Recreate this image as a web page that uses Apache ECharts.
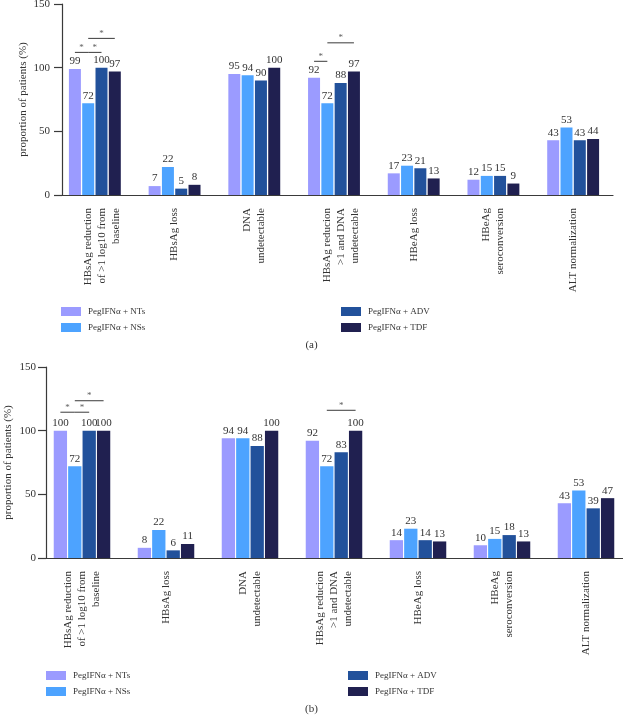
<!DOCTYPE html>
<html>
<head>
<meta charset="utf-8">
<script src="https://cdn.jsdelivr.net/npm/echarts@6/dist/echarts.min.js"></script>
<style>
html,body{margin:0;padding:0;background:#fff;}
#c{width:623px;height:716px;}
</style>
</head>
<body>
<div id="c"></div>
<script>
// ---------- data ----------
const categories = [
  "HBsAg reduction\nof >1 log10 from\nbaseline",
  "HBsAg loss",
  "DNA\nundetectable",
  "HBsAg reducion\n>1 and DNA\nundetectable",
  "HBeAg loss",
  "HBeAg\nseroconversion",
  "ALT normalization"
];
const seriesNames = ["PegIFNα + NTs", "PegIFNα + NSs", "PegIFNα + ADV", "PegIFNα + TDF"];
const yTicks = [0, 50, 100, 150];

// chart (a)
const aNTs = [99, 7, 95, 92, 17, 12, 43];
const aNSs = [72, 22, 94, 72, 23, 15, 53];
const aADV = [100, 5, 90, 88, 21, 15, 43];
const aTDF = [97, 8, 100, 97, 13, 9, 44];
// significance brackets (a): category, from bar, to bar, height
const aBrackets = [
  [0, 0, 1, 112], [0, 1, 2, 112], [0, 1, 3, 123],
  [3, 0, 1, 105], [3, 1, 3, 119.5]
];

// chart (b)
const bNTs = [100, 8, 94, 92, 14, 10, 43];
const bNSs = [72, 22, 94, 72, 23, 15, 53];
const bADV = [100, 6, 88, 83, 14, 18, 39];
const bTDF = [100, 11, 100, 100, 13, 13, 47];
const bBrackets = [
  [0, 0, 1, 114.5], [0, 1, 2, 114.5], [0, 1, 3, 123.5],
  [3, 1, 3, 116]
];

// ---------- styles / layout ----------
const colors = ["#9b9bff", "#4da3ff", "#22519b", "#202050"];
const FONT = "'Liberation Serif', 'DejaVu Serif', serif";
const TXT = "#333";
const AX = "#3a3a3a";

const layouts = [
  {left: 55, top: 4, width: 558, height: 191, yOffset: -7, labelMargin: 12, nameGap: 33, barW: 12, gap: 1.3, shiftMulti: true},
  {left: 40, top: 367, width: 588, height: 191, yOffset: -6, labelMargin: 10, nameGap: 32, barW: 13.3, gap: 1.1, shiftMulti: false}
];
const datasets = [[aNTs, aNSs, aADV, aTDF], [bNTs, bNSs, bADV, bTDF]];
const brackets = [aBrackets, bBrackets];

const grid = [], xAxis = [], yAxis = [], series = [];

layouts.forEach((L, gi) => {
  grid.push({left: L.left, top: L.top, width: L.width, height: L.height, containLabel: false, outerBoundsMode: 'none'});
  xAxis.push({
    type: 'category', gridIndex: gi, data: categories,
    axisLine: {onZero: false, lineStyle: {color: AX, width: 1.2}},
    axisTick: {alignWithLabel: true, length: 8, lineStyle: {color: AX, width: 1.2}},
    axisLabel: {
      rotate: 90, margin: 13, interval: 0, color: TXT,
      fontFamily: FONT, fontSize: 11, lineHeight: 14,
      formatter: v => (L.shiftMulti && v.split('\n').length === 3) ? '\n' + v : v
    }
  });
  yAxis.push({
    type: 'value', gridIndex: gi, min: yTicks[0], max: yTicks[yTicks.length - 1], interval: 50,
    offset: L.yOffset,
    name: 'proportion of patients (%)', nameLocation: 'middle', nameGap: L.nameGap, nameRotate: 90,
    nameMoveOverlap: false,
    nameTextStyle: {fontFamily: FONT, fontSize: 11, color: TXT},
    axisLine: {show: true, onZero: false, lineStyle: {color: AX, width: 1.2}},
    axisTick: {show: true, length: 8, lineStyle: {color: AX, width: 1.2}},
    axisLabel: {color: TXT, fontFamily: FONT, fontSize: 11, margin: L.labelMargin},
    splitLine: {show: false}
  });
  // hidden value axis for brackets
  xAxis.push({type: 'value', gridIndex: gi, min: -0.5, max: 6.5, show: false});

  const catAxis = gi * 2, valAxis = gi * 2 + 1;
  datasets[gi].forEach((arr, si) => {
    series.push({
      name: seriesNames[si], type: 'bar', xAxisIndex: catAxis, yAxisIndex: gi,
      data: arr, barWidth: L.barW, barGap: (L.gap / L.barW * 100).toFixed(1) + '%',
      itemStyle: {color: colors[si]},
      label: {show: true, position: 'top', distance: 2, color: TXT, fontFamily: FONT, fontSize: 11},
      emphasis: {disabled: true}
    });
  });
  const band = L.width / categories.length;
  const pitch = (L.barW + L.gap) / band;
  const off = b => (b - 1.5) * pitch;
  brackets[gi].forEach(([c, f, t, y]) => {
    series.push({
      type: 'line', xAxisIndex: valAxis, yAxisIndex: gi, silent: true,
      data: [[c + off(f), y], [c + off(t), y]],
      symbol: 'none', lineStyle: {color: AX, width: 1}
    });
    series.push({
      type: 'scatter', xAxisIndex: valAxis, yAxisIndex: gi, silent: true,
      data: [[c + (off(f) + off(t)) / 2, y]],
      symbolSize: 1, itemStyle: {color: 'rgba(0,0,0,0)'},
      label: {show: true, formatter: '*', position: 'top', distance: 0, color: TXT, fontFamily: FONT, fontSize: 9}
    });
  });
});

const legendCommon = {
  orient: 'vertical', icon: 'rect', itemWidth: 20, itemHeight: 9, itemGap: 7, padding: 0,
  textStyle: {fontFamily: FONT, fontSize: 9, color: TXT, padding: [0, 0, 0, 2]}, selectedMode: false
};
const legend = [
  Object.assign({}, legendCommon, {left: 61, top: 307, data: [seriesNames[0], seriesNames[1]]}),
  Object.assign({}, legendCommon, {left: 341, top: 307, data: [seriesNames[2], seriesNames[3]]}),
  Object.assign({}, legendCommon, {left: 46, top: 671, data: [seriesNames[0], seriesNames[1]]}),
  Object.assign({}, legendCommon, {left: 348, top: 671, data: [seriesNames[2], seriesNames[3]]})
];

const title = [
  {text: '(a)', left: 'center', top: 340, padding: 0, textStyle: {fontFamily: FONT, fontSize: 11, fontWeight: 'normal', color: TXT}},
  {text: '(b)', left: 'center', top: 704, padding: 0, textStyle: {fontFamily: FONT, fontSize: 11, fontWeight: 'normal', color: TXT}}
];

const chart = echarts.init(document.getElementById('c'), null, {renderer: 'canvas'});
chart.setOption({
  animation: false, backgroundColor: '#fff',
  title, legend, grid, xAxis, yAxis, series
});
</script>
</body>
</html>
